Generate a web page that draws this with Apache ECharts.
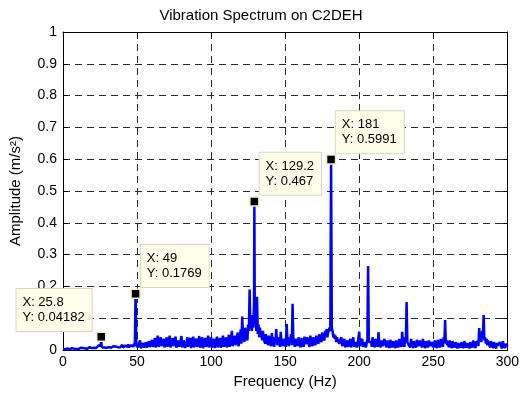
<!DOCTYPE html>
<html>
<head>
<meta charset="utf-8">
<script src="https://cdn.jsdelivr.net/npm/echarts@6/dist/echarts.min.js"></script>
<style>html,body{margin:0;padding:0;background:#fff}#c{width:522px;height:394px}</style>
</head>
<body>
<div id="c"></div>
<script>
// Spectrum amplitude at whole-Hz bins, starting at 0 Hz
const freqStart = 0;
const freqStep = 1;
const amp = [
  0.002,0.004,0.003,0.005,0.003,0.004,0.006,0.004,0.005,0.003,
  0.006,0.004,0.007,0.005,0.008,0.005,0.007,0.006,0.009,0.006,
  0.010,0.007,0.012,0.008,0.015,0.020,0.015,0.010,0.008,0.011,
  0.013,0.009,0.015,0.008,0.012,0.010,0.014,0.009,0.013,0.011,
  0.016,0.010,0.014,0.012,0.018,0.011,0.015,0.013,0.020,0.1769,
  0.025,0.015,0.030,0.012,0.022,0.010,0.025,0.015,0.028,0.018,
  0.032,0.015,0.038,0.020,0.045,0.018,0.040,0.022,0.035,0.015,
  0.040,0.020,0.045,0.012,0.038,0.022,0.042,0.015,0.036,0.020,
  0.044,0.018,0.035,0.012,0.040,0.022,0.038,0.010,0.042,0.020,
  0.036,0.015,0.044,0.020,0.040,0.012,0.038,0.018,0.045,0.015,
  0.040,0.020,0.035,0.010,0.042,0.018,0.038,0.015,0.045,0.020,
  0.040,0.015,0.048,0.022,0.060,0.025,0.045,0.030,0.055,0.025,
  0.065,0.105,0.040,0.070,0.050,0.080,0.190,0.090,0.110,0.150,
  0.120,0.167,0.080,0.070,0.055,0.060,0.040,0.050,0.030,0.045,
  0.025,0.053,0.020,0.040,0.066,0.025,0.040,0.057,0.020,0.035,
  0.030,0.082,0.025,0.040,0.050,0.145,0.040,0.035,0.020,0.040,
  0.015,0.038,0.020,0.042,0.018,0.040,0.025,0.045,0.020,0.040,
  0.030,0.045,0.035,0.050,0.040,0.055,0.045,0.060,0.066,0.055,
  0.070,0.5991,0.060,0.050,0.045,0.040,0.035,0.030,0.040,0.020,
  0.035,0.015,0.030,0.012,0.035,0.018,0.040,0.015,0.030,0.020,
  0.058,0.025,0.035,0.015,0.030,0.020,0.264,0.030,0.025,0.040,
  0.015,0.035,0.020,0.056,0.018,0.030,0.012,0.035,0.020,0.030,
  0.015,0.032,0.020,0.028,0.012,0.030,0.022,0.035,0.018,0.057,
  0.025,0.040,0.151,0.030,0.020,0.035,0.015,0.028,0.020,0.032,
  0.012,0.030,0.018,0.035,0.015,0.028,0.020,0.030,0.012,0.025,
  0.018,0.030,0.015,0.032,0.020,0.035,0.025,0.040,0.094,0.030,
  0.022,0.030,0.012,0.028,0.018,0.025,0.010,0.022,0.015,0.025,
  0.012,0.028,0.015,0.022,0.010,0.025,0.018,0.030,0.015,0.028,
  0.030,0.069,0.045,0.060,0.110,0.040,0.035,0.030,0.020,0.028,
  0.015,0.025,0.012,0.022,0.018,0.025,0.010,0.028,0.015,0.020,
  0.018
];
// Spectrum amplitude at half-Hz bins (0.5, 1.5, ... 299.5 Hz)
const halfStart = 0.5;
const ampHalf = [
  0.003,0.002,0.004,0.003,0.002,0.005,0.003,0.004,0.002,0.004,
  0.003,0.005,0.004,0.006,0.004,0.006,0.004,0.007,0.005,0.006,
  0.005,0.008,0.006,0.009,0.010,0.012,0.008,0.006,0.009,0.007,
  0.006,0.010,0.007,0.009,0.006,0.011,0.007,0.010,0.008,0.009,
  0.008,0.011,0.009,0.010,0.008,0.012,0.009,0.010,0.012,0.020,
  0.008,0.018,0.006,0.015,0.008,0.016,0.007,0.018,0.009,0.012,
  0.010,0.022,0.008,0.025,0.010,0.020,0.012,0.028,0.008,0.025,
  0.010,0.030,0.008,0.025,0.012,0.028,0.007,0.030,0.010,0.026,
  0.008,0.030,0.006,0.028,0.010,0.025,0.006,0.030,0.008,0.024,
  0.010,0.028,0.007,0.030,0.006,0.026,0.010,0.030,0.008,0.028,
  0.007,0.025,0.006,0.030,0.008,0.026,0.007,0.028,0.010,0.025,
  0.008,0.030,0.010,0.035,0.012,0.030,0.015,0.035,0.012,0.040,
  0.020,0.050,0.025,0.045,0.030,0.060,0.070,0.060,0.070,0.100,
  0.060,0.050,0.040,0.045,0.030,0.035,0.020,0.030,0.015,0.025,
  0.012,0.030,0.010,0.028,0.015,0.030,0.010,0.025,0.012,0.030,
  0.010,0.035,0.012,0.030,0.015,0.040,0.010,0.025,0.012,0.028,
  0.008,0.025,0.010,0.028,0.012,0.025,0.010,0.030,0.012,0.028,
  0.015,0.030,0.020,0.035,0.025,0.040,0.030,0.045,0.040,0.050,
  0.060,0.070,0.040,0.035,0.025,0.030,0.020,0.025,0.012,0.025,
  0.008,0.022,0.010,0.025,0.008,0.022,0.010,0.025,0.008,0.022,
  0.012,0.028,0.010,0.025,0.008,0.030,0.025,0.020,0.010,0.025,
  0.008,0.022,0.010,0.025,0.008,0.020,0.006,0.022,0.008,0.020,
  0.006,0.020,0.008,0.018,0.006,0.020,0.008,0.022,0.010,0.025,
  0.010,0.030,0.025,0.015,0.008,0.020,0.006,0.018,0.008,0.020,
  0.006,0.018,0.008,0.020,0.006,0.018,0.008,0.020,0.006,0.015,
  0.008,0.018,0.006,0.020,0.008,0.022,0.010,0.025,0.020,0.015,
  0.008,0.018,0.006,0.016,0.008,0.015,0.005,0.014,0.007,0.015,
  0.006,0.016,0.007,0.014,0.005,0.015,0.008,0.016,0.006,0.018,
  0.012,0.035,0.025,0.040,0.030,0.020,0.015,0.018,0.008,0.016,
  0.006,0.015,0.005,0.014,0.008,0.015,0.005,0.016,0.006,0.012
];
// Extra spectral lines between bins
const extraFreq = [25.8, 129.2];
const extraAmp = [0.04182, 0.467];
// Data tips
const tipFreq = [25.8, 49, 129.2, 181];
const tipAmp = [0.04182, 0.1769, 0.467, 0.5991];
const tipLabelX = ['25.8', '49', '129.2', '181'];
const tipLabelY = ['0.04182', '0.1769', '0.467', '0.5991'];

const xTicks = [0, 50, 100, 150, 200, 250, 300];
const yTicks = [0, 0.1, 0.2, 0.3, 0.4, 0.5, 0.6, 0.7, 0.8, 0.9, 1];

let pts = amp.map((v, i) => [freqStart + i * freqStep, v]);
ampHalf.forEach((v, i) => pts.push([halfStart + i * freqStep, v]));
extraFreq.forEach((f, i) => pts.push([f, extraAmp[i]]));
pts.sort((a, b) => a[0] - b[0]);

const tipOffsets = [[-79.5, -42.5], [10.5, -43.5], [10.5, -43.5], [10, -43]];
const tipData = tipFreq.map((f, i) => ({
  value: [f, tipAmp[i]],
  label: {
    position: tipOffsets[i],
    formatter: 'X: ' + tipLabelX[i] + '\nY: ' + tipLabelY[i]
  }
}));

const FONT = 'Liberation Sans, Arial, sans-serif';
const chart = echarts.init(document.getElementById('c'), null, {renderer: 'canvas'});
const baseAxis = {
  min: 0,
  axisLine: {show: true, onZero: false, lineStyle: {color: '#000', width: 1}},
  axisTick: {show: true, inside: true, length: 5, lineStyle: {color: '#000'}},
};
chart.setOption({
  animation: false,
  backgroundColor: '#fff',
  title: {
    text: 'Vibration Spectrum on C2DEH',
    left: 'center', top: 3,
    textStyle: {fontFamily: FONT, fontSize: 15, fontWeight: 'normal', color: '#000'}
  },
  grid: {left: 63, right: 14, top: 32, bottom: 44},
  xAxis: [
    Object.assign({}, baseAxis, {
      type: 'value', max: 300, interval: 50, position: 'bottom',
      name: 'Frequency (Hz)', nameLocation: 'middle', nameGap: 24,
      nameTextStyle: {fontFamily: FONT, fontSize: 15, color: '#000'},
      axisLabel: {fontFamily: FONT, fontSize: 14, color: '#000', margin: 5},
      splitLine: {show: true, lineStyle: {color: '#2a2a2a', type: [7, 5], width: 1}}
    }),
    Object.assign({}, baseAxis, {
      type: 'value', max: 300, interval: 50, position: 'top',
      axisLabel: {show: false}, splitLine: {show: false}
    })
  ],
  yAxis: [
    Object.assign({}, baseAxis, {
      type: 'value', max: 1, interval: 0.1, position: 'left',
      name: 'Amplitude (m/s²)', nameLocation: 'middle', nameGap: 40,
      nameTextStyle: {fontFamily: FONT, fontSize: 15, color: '#000'},
      axisLabel: {fontFamily: FONT, fontSize: 14, color: '#000', margin: 6,
        formatter: v => String(+v.toFixed(2))},
      splitLine: {show: true, lineStyle: {color: '#2a2a2a', type: [7, 5], width: 1}}
    }),
    Object.assign({}, baseAxis, {
      type: 'value', max: 1, interval: 0.1, position: 'right',
      axisLabel: {show: false}, splitLine: {show: false}
    })
  ],
  series: [
    {
      type: 'line', data: pts, showSymbol: false, symbol: 'none',
      lineStyle: {color: '#0000ff', width: 2.5}, z: 2
    },
    {
      type: 'scatter', data: tipData, symbol: 'rect', symbolSize: 9,
      itemStyle: {color: '#000', opacity: 1, borderColor: '#f2f0c4', borderWidth: 1.5},
      label: {
        show: true, fontFamily: FONT, fontSize: 13, lineHeight: 15, color: '#000',
        opacity: 1,
        backgroundColor: '#fdfde9', borderColor: '#d6d6c6', borderWidth: 1,
        padding: [6, 7, 6, 6], align: 'left', verticalAlign: 'top'
      },
      z: 5
    }
  ]
});
</script>
</body>
</html>
